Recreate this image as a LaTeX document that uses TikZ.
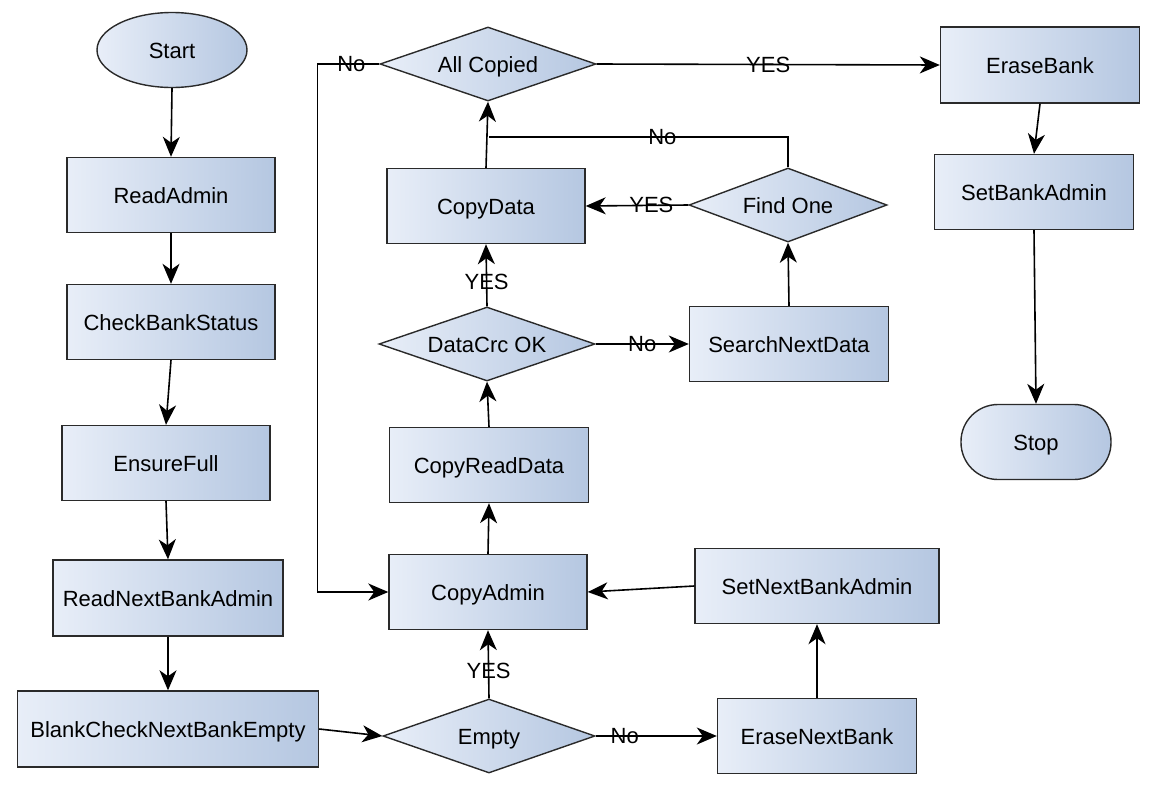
\documentclass[tikz,border=0pt]{standalone}
\usepackage{fontspec}
\setmainfont{Liberation Sans}
\usetikzlibrary{shapes.geometric,arrows.meta}
\definecolor{gl}{HTML}{E8EEF8}
\definecolor{gr}{HTML}{B5C7E1}
\definecolor{bd}{HTML}{2A2A2A}
\begin{document}
\begin{tikzpicture}[x=1pt,y=-1pt,
  base/.style={draw=bd, line width=1.4pt, left color=gl, right color=gr,
    font=\fontsize{22}{26}\selectfont, inner sep=2pt, text height=16pt, text depth=0pt},
  proc/.style={base, rectangle, minimum width=199pt, minimum height=75pt},
  dec/.style={base, diamond, shape aspect=2.92, minimum width=216pt, minimum height=74pt, inner sep=0pt},
  conn/.style={line width=1.6pt, -{Stealth[length=20pt,width=17pt,inset=6pt]}},
  plain/.style={line width=1.6pt},
  lab/.style={font=\fontsize{22}{26}\selectfont, inner sep=0pt}]
\useasboundingbox (0,0) rectangle (1157,785);

% nodes
\node[base, ellipse, minimum width=150pt, minimum height=75pt] (start) at (172,50) {Start};
\node[proc, minimum width=208pt] (readadmin) at (171,195) {ReadAdmin};
\node[proc, minimum width=208pt] (check) at (171,322) {CheckBankStatus};
\node[proc, minimum width=208pt] (ensure) at (166,463) {EnsureFull};
\node[proc, minimum width=230pt, minimum height=76pt] (readnext) at (168,598) {ReadNextBankAdmin};
\node[proc, minimum width=301pt, minimum height=76pt] (blank) at (168,729) {BlankCheckNextBankEmpty};
\node[dec, minimum width=212pt] (empty) at (489,736) {Empty};
\node[proc] (erasenext) at (817,736) {EraseNextBank};
\node[proc, minimum width=244pt] (setnext) at (817,586) {SetNextBankAdmin};
\node[proc, minimum width=198pt] (copyadmin) at (488,592) {CopyAdmin};
\node[proc] (copyread) at (489,465) {CopyReadData};
\node[dec] (crc) at (487,344) {DataCrc OK};
\node[proc] (search) at (789,344) {SearchNextData};
\node[dec, minimum width=198pt] (findone) at (788,205) {Find One};
\node[proc, minimum width=198pt] (copydata) at (486,206) {CopyData};
\node[dec] (allcopied) at (488,64) {All Copied};
\node[proc, minimum height=76pt] (erasebank) at (1040,65) {EraseBank};
\node[proc] (setbank) at (1034,192) {SetBankAdmin};
\node[base, rectangle, rounded corners=37pt, minimum width=150pt, minimum height=75pt] (stop) at (1036,442) {Stop};
\coordinate (join) at (489,137);

% connectors
\draw[conn] (start.south) -- (readadmin.north);
\draw[conn] (readadmin.south) -- (check.north);
\draw[conn] (check.south) -- (ensure.north);
\draw[conn] (ensure.south) -- (readnext.north);
\draw[conn] (readnext.south) -- (blank.north);
\draw[conn] (blank.east) -- (empty.west);
\draw[conn] (empty.north) -- node[lab, pos=0.4]{YES} (copyadmin.south);
\draw[conn] (empty.east) -- node[lab, pos=0.24]{No} (erasenext.west);
\draw[conn] (erasenext.north) -- (setnext.south);
\draw[conn] (setnext.west) -- (copyadmin.east);
\draw[conn] (copyadmin.north) -- (copyread.south);
\draw[conn] (copyread.north) -- (crc.south);
\draw[conn] (crc.north) -- node[lab, pos=0.4]{YES} (copydata.south);
\draw[conn] (crc.east) -- node[lab, pos=0.5]{No} (search.west);
\draw[conn] (search.north) -- (findone.south);
\draw[conn] (findone.west) -- node[lab, pos=0.36]{YES} (copydata.east);
\draw[conn] (copydata.north) -- (allcopied.south);
\draw[plain] (findone.north) |- node[lab, pos=0.71]{No} (join);
\draw[conn] (allcopied.east) -- node[lab, pos=0.5]{YES} (erasebank.west);
\draw[conn] (allcopied.west) -- node[lab, pos=0.45]{No} ++(-62,0) |- (copyadmin.west);
\draw[conn] (erasebank.south) -- (setbank.north);
\draw[conn] (setbank.south) -- (stop.north);
\end{tikzpicture}
\end{document}
